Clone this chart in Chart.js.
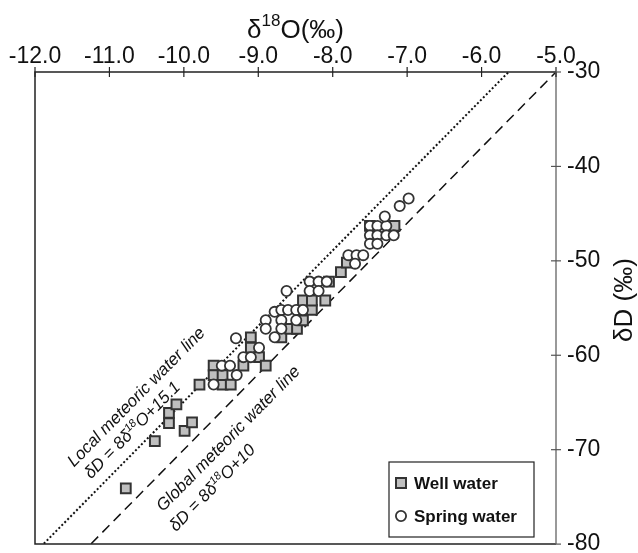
<!DOCTYPE html>
<html><head><meta charset="utf-8">
<script src="https://cdn.jsdelivr.net/npm/chart.js@4/dist/chart.umd.min.js"></script>
<style>html,body{margin:0;padding:0;background:#fff}#wrap{width:638px;height:553px}</style>
</head><body><div id="wrap"><canvas id="c" width="638" height="553"></canvas></div>
<script>
// ---- data ----
const wellX = [-10.78,-10.39,-10.20,-10.20,-10.10,-9.99,-9.89,-9.79,-9.60,-9.60,-9.48,-9.48,-9.37,-9.20,-9.10,-9.10,-8.99,-8.90,-8.69,-8.57,-8.48,-8.40,-8.40,-8.28,-8.28,-8.10,-8.05,-7.89,-7.81,-7.50,-7.17];
const wellY = [-74.1,-69.1,-67.2,-66.1,-65.2,-68.0,-67.1,-63.1,-61.1,-62.1,-63.1,-62.1,-63.1,-61.1,-58.1,-59.2,-60.2,-61.1,-58.1,-57.2,-57.2,-56.3,-54.2,-55.2,-54.2,-54.2,-52.2,-51.2,-50.2,-46.3,-46.3];
const springX = [-9.60,-9.49,-9.38,-9.29,-9.20,-9.10,-8.99,-9.30,-8.90,-8.90,-8.78,-8.78,-8.69,-8.69,-8.69,-8.60,-8.49,-8.49,-8.40,-8.62,-8.31,-8.19,-8.08,-8.31,-8.19,-7.79,-7.68,-7.59,-7.70,-7.50,-7.40,-7.28,-7.50,-7.40,-7.28,-7.18,-7.50,-7.40,-7.30,-7.10,-6.98];
const springY = [-63.1,-61.1,-61.1,-62.1,-60.2,-60.2,-59.2,-58.2,-56.3,-57.2,-55.4,-58.1,-55.2,-56.3,-57.2,-55.2,-55.2,-56.3,-55.2,-53.2,-52.2,-52.2,-52.2,-53.2,-53.2,-49.4,-49.4,-49.4,-50.3,-46.3,-46.3,-46.3,-47.3,-47.3,-47.3,-47.3,-48.2,-48.2,-45.3,-44.2,-43.4];
const xTicks = [-12,-11,-10,-9,-8,-7,-6,-5];
const yTicks = [-80,-70,-60,-50,-40,-30];
const lineX = [-12,-5];
const lmwl = {slope:8, intercept:15.1};
const gmwl = {slope:8, intercept:10};
const seriesNames = ['Well water','Spring water'];

// ---- styles / layout ----
const FONT = '"Liberation Sans", Arial, sans-serif';
const sqStyle = {bg:'#bfbfbf', border:'#333', bw:2, r:6.9};
const ciStyle = {bg:'#ffffff', border:'#333', bw:1.8, r:5.1};

const toPts = (xs, ys) => xs.map((x,i)=>({x, y: ys[i]}));
const linePts = (l) => lineX.map(x=>({x, y: l.slope*x + l.intercept}));

// rich text helper: segments [text, isSup]; align 'center' or 'left'
function drawRich(ctx, segs, size, style, align){
  const norm = `${style} ${size}px ${FONT}`;
  const sup = `${style} ${Math.round(size*0.65)}px ${FONT}`;
  let total = 0;
  const widths = segs.map(([t,s])=>{ctx.font = s?sup:norm; const w=ctx.measureText(t).width; total+=w; return w;});
  let x = align === 'left' ? 0 : -total/2;
  ctx.textAlign = 'left';
  segs.forEach(([t,s],i)=>{
    ctx.font = s?sup:norm;
    ctx.fillText(t, x, s ? -size*0.38 : 0);
    x += widths[i];
  });
}

// label anchors (baseline start) for the two reference lines
const annotations = [
  {x:-11.476, y:-71.9, segs:[['Local meteoric water line',false]]},
  {x:-11.248, y:-73.16, segs:[['δD = 8δ',false],['18',true],['O+15.1',false]]},
  {x:-10.28, y:-76.63, segs:[['Global meteoric water line',false]]},
  {x:-10.106, y:-78.74, segs:[['δD = 8δ',false],['18',true],['O+10',false]]},
];

const decor = {
  id:'decor',
  afterDraw(chart){
    const {ctx, chartArea:a, scales:{x, y}} = chart;
    ctx.save();
    // frame
    ctx.lineWidth = 1.5; ctx.strokeStyle = '#222';
    ctx.beginPath(); ctx.moveTo(a.right, a.top); ctx.lineTo(a.left, a.top); ctx.lineTo(a.left, a.bottom); ctx.lineTo(a.right, a.bottom); ctx.stroke();
    ctx.strokeStyle = '#777';
    ctx.beginPath(); ctx.moveTo(a.right, a.top); ctx.lineTo(a.right, a.bottom); ctx.stroke();
    // tick marks crossing axes
    ctx.strokeStyle = '#222'; ctx.lineWidth = 1.2;
    xTicks.forEach(v=>{const px=x.getPixelForValue(v); ctx.beginPath(); ctx.moveTo(px, a.top-5); ctx.lineTo(px, a.top+5); ctx.stroke();});
    ctx.strokeStyle = '#555';
    yTicks.forEach(v=>{const py=y.getPixelForValue(v); ctx.beginPath(); ctx.moveTo(a.right-5, py); ctx.lineTo(a.right+5, py); ctx.stroke();});

    // axis titles
    ctx.fillStyle = '#111'; ctx.textBaseline = 'middle';
    ctx.save(); ctx.translate((a.left+a.right)/2, 31);
    drawRich(ctx, [['δ',false],['18',true],['O(‰)',false]], 26, 'normal', 'center');
    ctx.restore();
    ctx.save(); ctx.translate(625, (a.top+a.bottom)/2 - 8); ctx.rotate(-Math.PI/2);
    drawRich(ctx, [['δD (‰)',false]], 26, 'normal', 'center');
    ctx.restore();

    // line annotations
    const pxPerX = Math.abs(x.getPixelForValue(1)-x.getPixelForValue(0));
    const pxPerY = Math.abs(y.getPixelForValue(1)-y.getPixelForValue(0));
    const ang = Math.atan2(lmwl.slope*pxPerY, pxPerX);
    ctx.fillStyle = '#111'; ctx.textBaseline = 'alphabetic';
    annotations.forEach(an=>{
      ctx.save();
      ctx.translate(x.getPixelForValue(an.x), y.getPixelForValue(an.y));
      ctx.rotate(-ang);
      drawRich(ctx, an.segs, 17, 'italic', 'left');
      ctx.restore();
    });

    // legend box
    const lx = 389, ly = 462, lw = 145, lh = 75;
    ctx.fillStyle = '#fff'; ctx.fillRect(lx, ly, lw, lh);
    ctx.strokeStyle = '#222'; ctx.lineWidth = 1.2; ctx.strokeRect(lx, ly, lw, lh);
    const rows = [ly+21, ly+54];
    ctx.lineWidth = sqStyle.bw; ctx.strokeStyle = sqStyle.border; ctx.fillStyle = sqStyle.bg;
    ctx.beginPath(); ctx.rect(401-5, rows[0]-5, 10, 10); ctx.fill(); ctx.stroke();
    ctx.lineWidth = ciStyle.bw; ctx.strokeStyle = ciStyle.border; ctx.fillStyle = ciStyle.bg;
    ctx.beginPath(); ctx.arc(401, rows[1], ciStyle.r, 0, Math.PI*2); ctx.fill(); ctx.stroke();
    ctx.fillStyle = '#111'; ctx.font = `bold 17px ${FONT}`; ctx.textAlign='left'; ctx.textBaseline='middle';
    ctx.fillText(seriesNames[0], 414, rows[0]+1);
    ctx.fillText(seriesNames[1], 414, rows[1]+1);
    ctx.restore();
  }
};

new Chart(document.getElementById('c'), {
  type:'scatter',
  data:{datasets:[
    {label:seriesNames[1], data:toPts(springX, springY), pointStyle:'circle', pointRadius:ciStyle.r, pointBackgroundColor:ciStyle.bg, pointBorderColor:ciStyle.border, pointBorderWidth:ciStyle.bw},
    {label:seriesNames[0], data:toPts(wellX, wellY), pointStyle:'rect', pointRadius:sqStyle.r, pointBackgroundColor:sqStyle.bg, pointBorderColor:sqStyle.border, pointBorderWidth:sqStyle.bw},
    {type:'line', label:'LMWL', data:linePts(lmwl), showLine:true, pointRadius:0, borderColor:'#111', borderWidth:2, borderDash:[2,2.2], fill:false, clip:0},
    {type:'line', label:'GMWL', data:linePts(gmwl), showLine:true, pointRadius:0, borderColor:'#111', borderWidth:1.5, borderDash:[10,6], fill:false, clip:0},
  ]},
  options:{
    responsive:false, animation:false, devicePixelRatio:1,
    layout:{padding:{left:35, bottom:6, top:0, right:0}},
    plugins:{legend:{display:false}, tooltip:{enabled:false}},
    scales:{
      x:{type:'linear', position:'top', min:-12, max:-5,
        afterBuildTicks:s=>{s.ticks = xTicks.map(v=>({value:v}));},
        afterFit:s=>{s.height = 72; s.paddingLeft = 0; s.paddingRight = 0;},
        grid:{display:false, drawTicks:false}, border:{display:false},
        ticks:{autoSkip:false, maxRotation:0, padding:2, color:'#111', font:{family:FONT, size:23}, callback:v=>Number(v).toFixed(1)}},
      y:{type:'linear', position:'right', min:-80, max:-30,
        afterBuildTicks:s=>{s.ticks = yTicks.map(v=>({value:v}));},
        afterFit:s=>{s.width = 82; s.paddingTop = 0; s.paddingBottom = 0;},
        grid:{display:false, drawTicks:false}, border:{display:false},
        ticks:{autoSkip:false, padding:11, color:'#111', font:{family:FONT, size:23}, callback:v=>String(v)}}
    }
  },
  plugins:[decor]
});
</script></body></html>
